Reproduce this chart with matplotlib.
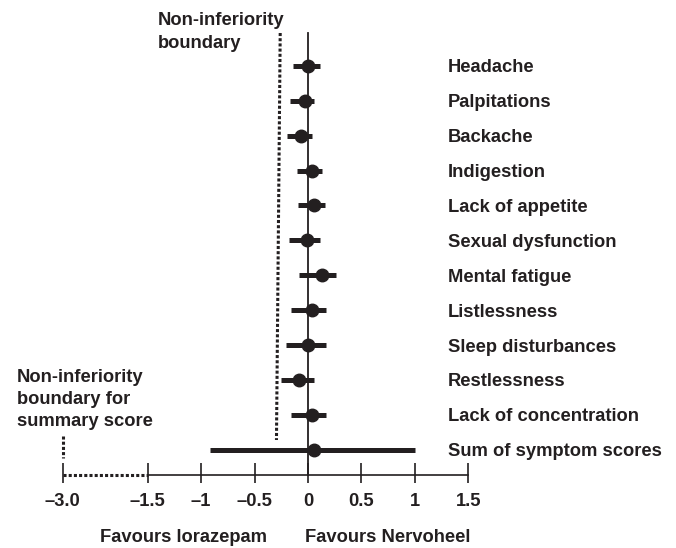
import numpy as np
import matplotlib
matplotlib.use('Agg')
import matplotlib.pyplot as plt

# Symptoms, point estimates and 95% CI (difference Nervoheel - lorazepam)
symptoms = ['Headache', 'Palpitations', 'Backache', 'Indigestion', 'Lack of appetite',
            'Sexual dysfunction', 'Mental fatigue', 'Listlessness', 'Sleep disturbances',
            'Restlessness', 'Lack of concentration', 'Sum of symptom scores']
estimate = [0.00, -0.03, -0.07, 0.04, 0.06, -0.01, 0.13, 0.04, 0.00, -0.08, 0.04, 0.06]
ci_low = [-0.14, -0.17, -0.20, -0.10, -0.09, -0.18, -0.08, -0.16, -0.21, -0.25, -0.16, -0.92]
ci_high = [0.11, 0.06, 0.04, 0.13, 0.16, 0.11, 0.26, 0.17, 0.17, 0.06, 0.17, 1.00]

tick_values = [-3.0, -1.5, -1, -0.5, 0, 0.5, 1, 1.5]
tick_labels = ['\u20133.0', '\u20131.5', '\u20131', '\u20130.5', '0', '0.5', '1', '1.5']

boundary_top, boundary_bottom = -0.26, -0.295   # non-inferiority boundary (symptoms)
summary_boundary = -3.0                          # non-inferiority boundary (summary score)

INK = '#231f20'
plt.rcParams['font.family'] = ['Liberation Sans', 'DejaVu Sans']
plt.rcParams['font.weight'] = 'bold'
FS = 13.2

# broken axis: values below -1.5 are compressed
K = 0.53


def fwd(x):
    x = np.asarray(x, float)
    return np.where(x >= -1.5, x, -1.5 + (x + 1.5) * K)


def inv(u):
    u = np.asarray(u, float)
    return np.where(u >= -1.5, u, -1.5 + (u + 1.5) / K)


fig = plt.figure(figsize=(6.76, 5.48), dpi=100)
ax = fig.add_axes([0, 0, 1, 1])
ax.set_xscale('function', functions=(fwd, inv))
ax.axis('off')

px_x = 106.9   # pixels per unit on x
px_y = 34.9    # pixels per row
x0 = 308.0
y0 = 65.8
ax.set_xlim(float(inv(-x0 / px_x)), float(inv((676 - x0) / px_x)))
ax.set_ylim((548 - y0) / px_y, -y0 / px_y)


def ypx(p):
    return (p - y0) / px_y


def xpx(p):
    return float(inv((p - x0) / px_x))


rows = np.arange(len(symptoms))
axis_y = ypx(475)
top_y = ypx(33)
dotted = (0, (1, 0.7))

# zero line
ax.plot([0, 0], [top_y, axis_y], color=INK, lw=1.3, zorder=2)

# non-inferiority boundaries
ax.plot([boundary_top, boundary_bottom], [top_y, ypx(440)], color=INK,
        lw=2.2, linestyle=dotted, zorder=2)
ax.plot([summary_boundary, summary_boundary], [ypx(436), ypx(458)],
        color=INK, lw=2.2, linestyle=dotted)

# confidence intervals and estimates
ax.hlines(rows, ci_low, ci_high, color=INK, lw=3.6, zorder=3)
ax.plot(estimate, rows, 'o', color=INK, markersize=9, zorder=4)

for r, name in zip(rows, symptoms):
    ax.text(xpx(447.5), r + 6.5 / px_y, name, va='baseline', ha='left', fontsize=FS,
            color=INK)

# x axis
ax.plot([-3.0, -1.5], [axis_y, axis_y], color=INK, lw=2.2, linestyle=dotted)
ax.plot([-1.5, 1.5], [axis_y, axis_y], color=INK, lw=1.2)
ax.vlines(tick_values, axis_y - 12 / px_y, axis_y + 8 / px_y, color=INK, lw=1.2)
for v, lab in zip(tick_values, tick_labels):
    ax.text(v, ypx(505.5), lab, ha='center', va='baseline', fontsize=FS, color=INK)

ax.text(xpx(184), ypx(542), 'Favours lorazepam', ha='center', va='baseline',
        fontsize=FS, color=INK)
ax.text(xpx(388), ypx(542), 'Favours Nervoheel', ha='center', va='baseline',
        fontsize=FS, color=INK)

for line, base in zip(['Non-inferiority', 'boundary'], [25, 48.3]):
    ax.text(xpx(158), ypx(base), line, ha='left', va='baseline', fontsize=FS, color=INK)
for line, base in zip(['Non-inferiority', 'boundary for', 'summary score'],
                      [381.7, 404, 426]):
    ax.text(xpx(17), ypx(base), line, ha='left', va='baseline', fontsize=FS, color=INK)

fig.savefig('out.png', dpi=100)
